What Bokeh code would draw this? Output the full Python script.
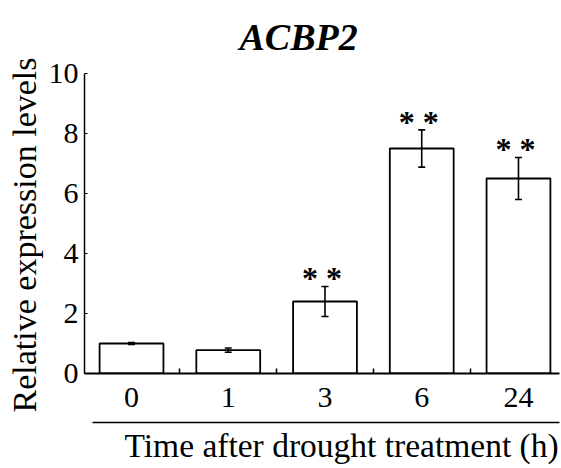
from bokeh.plotting import figure
from bokeh.models import (ColumnDataSource, FixedTicker, LinearAxis, Title,
                          Label, Whisker, TeeHead, Range1d)
from bokeh.core.properties import value
from bokeh.embed import file_html
from bokeh.resources import INLINE

# ---- data ----
times = ["0", "1", "3", "6", "24"]
levels = [1.0, 0.78, 2.4, 7.5, 6.5]
errors = [0.03, 0.07, 0.5, 0.62, 0.7]
marks = ["", "", "* *", "* *", "* *"]
y_ticks = [0, 2, 4, 6, 8, 10]

title_text = "ACBP2"
x_title = "Time after drought treatment (h)"
y_title = "Relative expression levels"

FONT = "Liberation Serif"

idx = list(range(len(times)))
src = ColumnDataSource(dict(
    x=idx, top=levels,
    upper=[v + e for v, e in zip(levels, errors)],
    lower=[v - e for v, e in zip(levels, errors)],
    mark=marks,
))

# frame spans from the canvas top; y axis drawn only over 0..10
p = figure(frame_width=475, frame_height=373, output_backend="svg",
           toolbar_location=None,
           x_range=Range1d(-0.486, 4.424), y_range=Range1d(0, 12.433),
           min_border_left=82, min_border_top=0, min_border_right=4,
           min_border_bottom=93)
p.outline_line_color = None
p.xgrid.visible = False
p.ygrid.visible = False
p.background_fill_color = "white"
p.border_fill_color = "white"

p.vbar(x="x", top="top", width=0.66, bottom=0, source=src,
       fill_color="white", line_color="black", line_width=1.8)

wh = Whisker(base="x", upper="upper", lower="lower", source=src,
             line_color="black", line_width=1.6, level="overlay",
             upper_head=TeeHead(size=7, line_width=1.6, line_color="black"),
             lower_head=TeeHead(size=7, line_width=1.6, line_color="black"))
p.add_layout(wh)

p.text(x="x", y="upper", text="mark", source=src, text_align="center",
       text_baseline="middle", y_offset=-8, x_offset=-3,
       text_font=value(FONT), text_font_style="bold",
       text_font_size="32px", text_color="black")

# x axis
xa = p.xaxis[0]
xa.ticker = FixedTicker(ticks=idx, minor_ticks=[i + 0.5 for i in idx[:-1]])
xa.major_label_overrides = {float(i): t for i, t in zip(idx, times)}
xa.major_tick_in = 0
xa.major_tick_out = 0
xa.minor_tick_in = 5
xa.minor_tick_out = 0
xa.minor_tick_line_width = 1.5
xa.axis_line_width = 2
xa.major_label_standoff = 14
xa.major_label_text_font = FONT
xa.major_label_text_font_size = "30px"
xa.major_label_text_color = "black"

# spacer + separator line below tick labels
p.add_layout(Title(text=" ", text_font_size="1px", standoff=10), "below")
xa2 = LinearAxis(ticker=FixedTicker(ticks=[]), axis_line_width=1.6,
                 major_tick_in=0, major_tick_out=0, minor_tick_in=0,
                 minor_tick_out=0, major_label_standoff=0,
                 bounds=(-0.403, 4.424))
p.add_layout(xa2, "below")

# y axis
ya = p.yaxis[0]
ya.ticker = FixedTicker(ticks=y_ticks)
ya.bounds = (y_ticks[0], y_ticks[-1])
ya.major_tick_in = 3
ya.major_tick_out = 0
ya.minor_tick_in = 0
ya.minor_tick_out = 0
ya.axis_line_width = 1.5
ya.major_label_standoff = 6
ya.major_label_text_font = FONT
ya.major_label_text_font_size = "30px"
ya.major_label_text_color = "black"

# texts
p.add_layout(Label(x=1.116, y=11.2, text=title_text, text_font=FONT,
                   text_font_size="38px", text_font_style="bold italic",
                   text_align="left", text_baseline="alphabetic",
                   text_color="black"))
p.add_layout(Title(text=x_title, text_font=FONT, text_font_size="33.5px",
                   text_font_style="normal", align="left", offset=40,
                   standoff=4, text_color="black"), "below")
p.add_layout(Title(text=y_title, text_font=FONT, text_font_size="34px",
                   text_font_style="normal", align="left", offset=-39,
                   standoff=6, text_color="black"), "left")

open("out.html", "w").write(file_html(p, INLINE))
